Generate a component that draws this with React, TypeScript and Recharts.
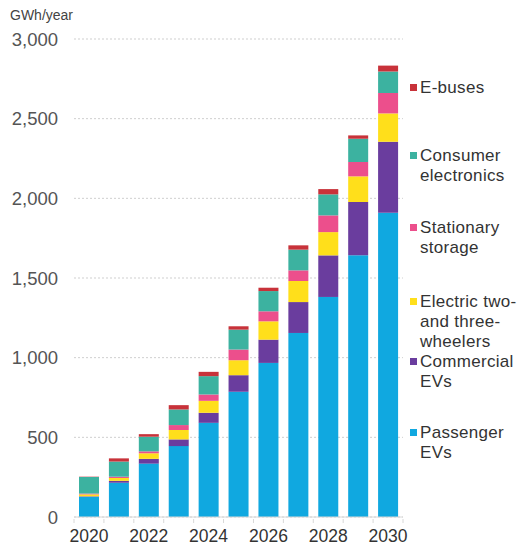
import { BarChart, Bar, XAxis, YAxis, CartesianGrid } from "recharts";

const years = ["2020", "2021", "2022", "2023", "2024", "2025", "2026", "2027", "2028", "2029", "2030"];
const passengerEVs = [127, 215, 335, 445, 591, 786, 967, 1155, 1381, 1643, 1910];
const commercialEVs = [3, 12, 30, 42, 63, 104, 146, 194, 261, 334, 445];
const twoThreeWheelers = [12, 18, 35, 59, 75, 94, 115, 132, 146, 161, 178];
const stationaryStorage = [5, 8, 12, 31, 40, 67, 63, 67, 105, 90, 128];
const consumerElectronics = [104, 95, 92, 98, 115, 125, 127, 130, 132, 146, 135];
const eBuses = [2, 20, 16, 27, 27, 21, 21, 27, 33, 21, 37];
const yTicks = [0, 500, 1000, 1500, 2000, 2500, 3000];

const series = [
  { key: "passenger", name: "Passenger EVs", values: passengerEVs, color: "#10a8e0" },
  { key: "commercial", name: "Commercial EVs", values: commercialEVs, color: "#6a3d9e" },
  { key: "twoThree", name: "Electric two- and three-wheelers", values: twoThreeWheelers, color: "#ffdf1b" },
  { key: "stationary", name: "Stationary storage", values: stationaryStorage, color: "#ec4f8c" },
  { key: "consumer", name: "Consumer electronics", values: consumerElectronics, color: "#3cb2a0" },
  { key: "ebuses", name: "E-buses", values: eBuses, color: "#c8323a" },
];

// legend text lines, top to bottom, with the y of the first line
const legendItems = [
  { key: "ebuses", lines: ["E-buses"], y: 88 },
  { key: "consumer", lines: ["Consumer", "electronics"], y: 156 },
  { key: "stationary", lines: ["Stationary", "storage"], y: 228 },
  { key: "twoThree", lines: ["Electric two-", "and three-", "wheelers"], y: 302 },
  { key: "commercial", lines: ["Commercial", "EVs"], y: 362 },
  { key: "passenger", lines: ["Passenger", "EVs"], y: 433 },
];

const chartData = years.map((year, i) => {
  const row: Record<string, string | number> = { year };
  series.forEach((s) => {
    row[s.key] = s.values[i];
  });
  return row;
});

const FONT = "'Liberation Sans', Arial, sans-serif";
const PLOT_LEFT = 74;
const PLOT_RIGHT = 403;
const BAND = (PLOT_RIGHT - PLOT_LEFT) / years.length;

const YearTick = (props: any) => {
  const { x, y, payload, index } = props;
  return (
    <g>
      <line x1={x - BAND / 2} x2={x - BAND / 2} y1={y} y2={y + 4} stroke="#d8d8d8" />
      {index === years.length - 1 && (
        <line x1={x + BAND / 2} x2={x + BAND / 2} y1={y} y2={y + 4} stroke="#d8d8d8" />
      )}
      {index % 2 === 0 && (
        <text x={x} y={y + 23} textAnchor="middle" fontSize={17.5} fill="#333" fontFamily={FONT}>
          {payload.value}
        </text>
      )}
    </g>
  );
};

function SideLegend() {
  return (
    <>
      {legendItems.map((item) => {
        const color = series.find((s) => s.key === item.key)!.color;
        return (
          <div key={item.key}>
            <div
              style={{
                position: "absolute",
                left: 410,
                top: item.y - 4,
                width: 7,
                height: 7,
                background: color,
              }}
            />
            <div
              style={{
                position: "absolute",
                left: 420,
                top: item.y - 10,
                fontFamily: FONT,
                fontSize: 17,
                lineHeight: "20px",
                color: "#333",
                whiteSpace: "nowrap",
                letterSpacing: "0.3px",
              }}
            >
              {item.lines.map((l) => (
                <div key={l}>{l}</div>
              ))}
            </div>
          </div>
        );
      })}
    </>
  );
}

export default function App() {
  return (
    <div style={{ position: "absolute", left: 0, top: 0, width: 529, height: 550, background: "#fff" }}>
      <BarChart
        width={529}
        height={550}
        data={chartData}
        margin={{ top: 39, right: 529 - PLOT_RIGHT, left: 0, bottom: 0 }}
        barSize={20}
      >
        <CartesianGrid vertical={false} stroke="#cfcfcf" strokeDasharray="2 2" />
        <XAxis
          dataKey="year"
          height={33}
          interval={0}
          tickLine={false}
          tickSize={0}
          axisLine={{ stroke: "#d8d8d8" }}
          tick={<YearTick />}
        />
        <YAxis
          width={PLOT_LEFT}
          domain={[0, 3000]}
          ticks={yTicks}
          axisLine={false}
          tickLine={false}
          tickSize={0}
          tickMargin={16}
          tickFormatter={(v: number) => v.toLocaleString("en-US")}
          tick={{ fontSize: 18.5, fill: "#555", fontFamily: FONT }}
        />
        {series.map((s) => (
          <Bar key={s.key} dataKey={s.key} name={s.name} stackId="a" fill={s.color} isAnimationActive={false} />
        ))}
      </BarChart>
      <div
        style={{
          position: "absolute",
          left: 10,
          top: 7,
          fontFamily: FONT,
          fontSize: 14,
          color: "#444",
        }}
      >
        GWh/year
      </div>
      <SideLegend />
    </div>
  );
}
